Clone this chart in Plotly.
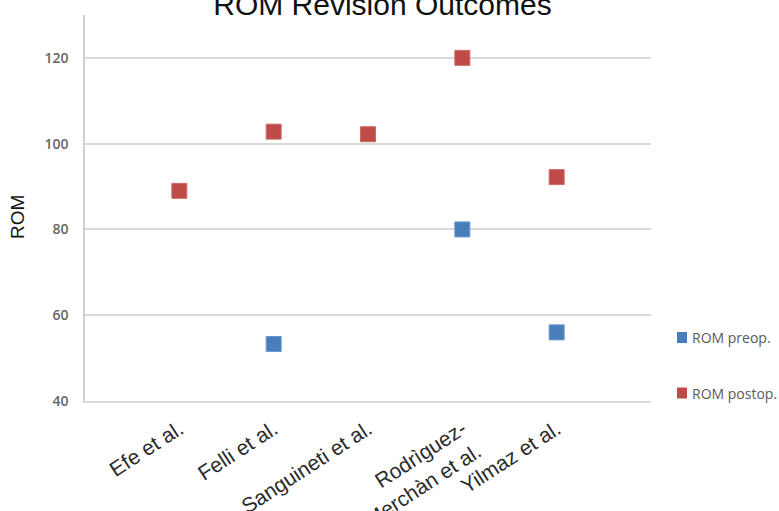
import plotly.graph_objects as go

# Studies reporting range of motion before and after revision
studies = ["Efe et al.", "Felli et al.", "Sanguineti et al.",
           "Rodrìguez-<br>Merchàn et al.", "Yilmaz et al."]
study_pos = [1, 2, 3, 4, 5]

rom_preop = [None, 53.3, None, 80.0, 56.0]
rom_postop = [89.0, 102.8, 102.2, 120.0, 92.2]

preop_color = "#4a7ebb"
postop_color = "#be4b48"

y_ticks = [40, 60, 80, 100, 120]

fig = go.Figure()

fig.add_trace(go.Scatter(
    x=study_pos, y=rom_preop, mode="markers", name="ROM preop.",
    marker=dict(symbol="square", size=15, color=preop_color,
                line=dict(width=1, color="#6b96cc")),
))
fig.add_trace(go.Scatter(
    x=study_pos, y=rom_postop, mode="markers", name="ROM postop.",
    marker=dict(symbol="square", size=15, color=postop_color,
                line=dict(width=1, color="#d06a67")),
))

# Plot area spans 85..651 px horizontally and 15..401 px vertically
L, R, T, B = 85, 128, 15, 110
W, H = 779, 511
pw, ph = W - L - R, H - T - B


def px_x(px):
    return (px - L) / pw


def px_y(py):
    return (H - B - py) / ph


shapes = []
annotations = []

# Legend entries drawn as colour swatches with labels
for label, color, cy in [("ROM preop.", preop_color, 337.5),
                         ("ROM postop.", postop_color, 393.0)]:
    shapes.append(dict(type="rect", xref="paper", yref="paper",
                       x0=px_x(677), x1=px_x(687),
                       y0=px_y(cy + 5.5), y1=px_y(cy - 5.5),
                       fillcolor=color, line=dict(width=0)))
    annotations.append(dict(text=label, xref="paper", yref="paper",
                            x=px_x(690), y=px_y(cy), xanchor="left",
                            yanchor="middle", showarrow=False,
                            font=dict(family="Open Sans", size=14,
                                      color="#595959")))

# Vertical axis title
annotations.append(dict(text="ROM", xref="paper", yref="paper",
                        x=px_x(17), y=px_y(217), textangle=-90,
                        xanchor="center", yanchor="middle", showarrow=False,
                        font=dict(family="Liberation Sans", size=19,
                                  color="#111111")))

fig.update_layout(
    width=W, height=H,
    margin=dict(l=L, r=R, t=T, b=B, autoexpand=False),
    paper_bgcolor="white", plot_bgcolor="white",
    showlegend=False,
    title=dict(text="ROM Revision Outcomes", x=382.5 / W, xanchor="center",
               xref="container", yref="container", y=1 - 4 / H,
               yanchor="middle",
               font=dict(family="Liberation Sans", size=30, color="#111111")),
    shapes=shapes,
    annotations=annotations,
)

fig.update_xaxes(
    range=[0, 6], tickmode="array", tickvals=study_pos, ticktext=studies,
    tickangle=-33, showgrid=False, zeroline=False, automargin=False,
    showline=True, linecolor="#d9d9d9", linewidth=1.5,
    ticks="outside", ticklen=6, tickcolor="rgba(0,0,0,0)",
    tickfont=dict(family="Liberation Sans", size=21, color="#2a2a2a"),
)
fig.update_yaxes(
    range=[40, 130], tickmode="array", tickvals=y_ticks, automargin=False,
    showgrid=True, gridcolor="#d9d9d9", gridwidth=1.5, zeroline=False,
    showline=True, linecolor="#d0d0d0", linewidth=1.5,
    ticklabelstandoff=12,
    tickfont=dict(family="Open Sans", size=14, color="#666666", weight=600),
)

fig.write_html("out.html")
